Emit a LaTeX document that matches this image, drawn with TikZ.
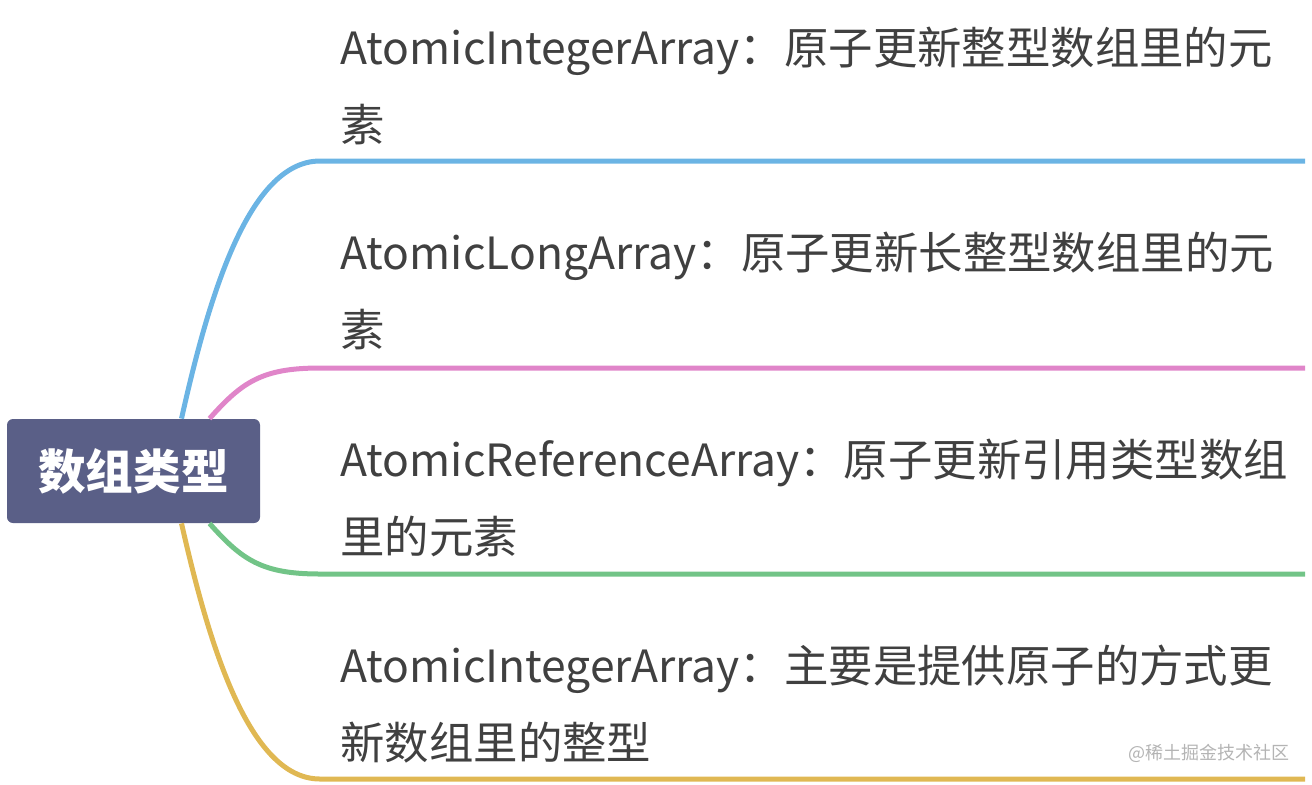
\documentclass[tikz,border=0pt]{standalone}
\usepackage{fontspec}
\setmainfont{Noto Sans CJK SC}
\usetikzlibrary{positioning}
\definecolor{rootfill}{HTML}{5A5F87}
\definecolor{txt}{HTML}{404040}
\definecolor{cblue}{HTML}{6BB4E4}
\definecolor{cpink}{HTML}{E085C9}
\definecolor{cgreen}{HTML}{72C487}
\definecolor{cyellow}{HTML}{E0B853}
\definecolor{wmark}{HTML}{B4B4B4}

\begin{document}
\begin{tikzpicture}[x=0.5pt,y=-0.5pt,
  root/.style={fill=rootfill,rounded corners=3pt,minimum width=126.5pt,minimum height=52pt,inner sep=0pt,
    text=white,font=\fontsize{23.8}{28}\selectfont\bfseries},
  lbl/.style={anchor=base west,inner sep=0pt,text=txt,font=\fontsize{22.2}{26}\selectfont},
  br/.style={line width=2.5pt}]
  \useasboundingbox (0,0) rectangle (1312,784);
  \node[root](r) at (133.5,471){数组类型};
  % branches
  \coordinate (b1) at (320,161); \coordinate (e1) at (1305,161);
  \coordinate (b2) at (320,368); \coordinate (e2) at (1305,368);
  \coordinate (b3) at (320,574); \coordinate (e3) at (1305,574);
  \coordinate (b4) at (320,779); \coordinate (e4) at (1305,779);
  \draw[br,cblue]([xshift=24pt]r.north) .. controls (208,300) and (248,161) .. (b1) -- (e1);
  \draw[br,cpink]([xshift=38pt]r.north) .. controls (242,382) and (262,368) .. (b2) -- (e2);
  \draw[br,cgreen]([xshift=38pt]r.south) .. controls (242,560) and (262,574) .. (b3) -- (e3);
  \draw[br,cyellow]([xshift=24pt]r.south) .. controls (208,640) and (248,779) .. (b4) -- (e4);
  % labels
  \node[lbl](t1a) at (340,64){AtomicIntegerArray：原子更新整型数组里的元};
  \node[lbl](t1b) at (340,141){素};
  \node[lbl](t2a) at (340,269){AtomicLongArray：原子更新长整型数组里的元};
  \node[lbl](t2b) at (340,346){素};
  \node[lbl](t3a) at (340,476){AtomicReferenceArray：原子更新引用类型数组};
  \node[lbl](t3b) at (340,553){里的元素};
  \node[lbl](t4a) at (340,682){AtomicIntegerArray：主要是提供原子的方式更};
  \node[lbl](t4b) at (340,759){新数组里的整型};
  \node[anchor=base west,inner sep=0pt,text=wmark,font=\fontsize{9}{11}\selectfont](wm) at (1128,759){@稀土掘金技术社区};
\end{tikzpicture}
\end{document}
